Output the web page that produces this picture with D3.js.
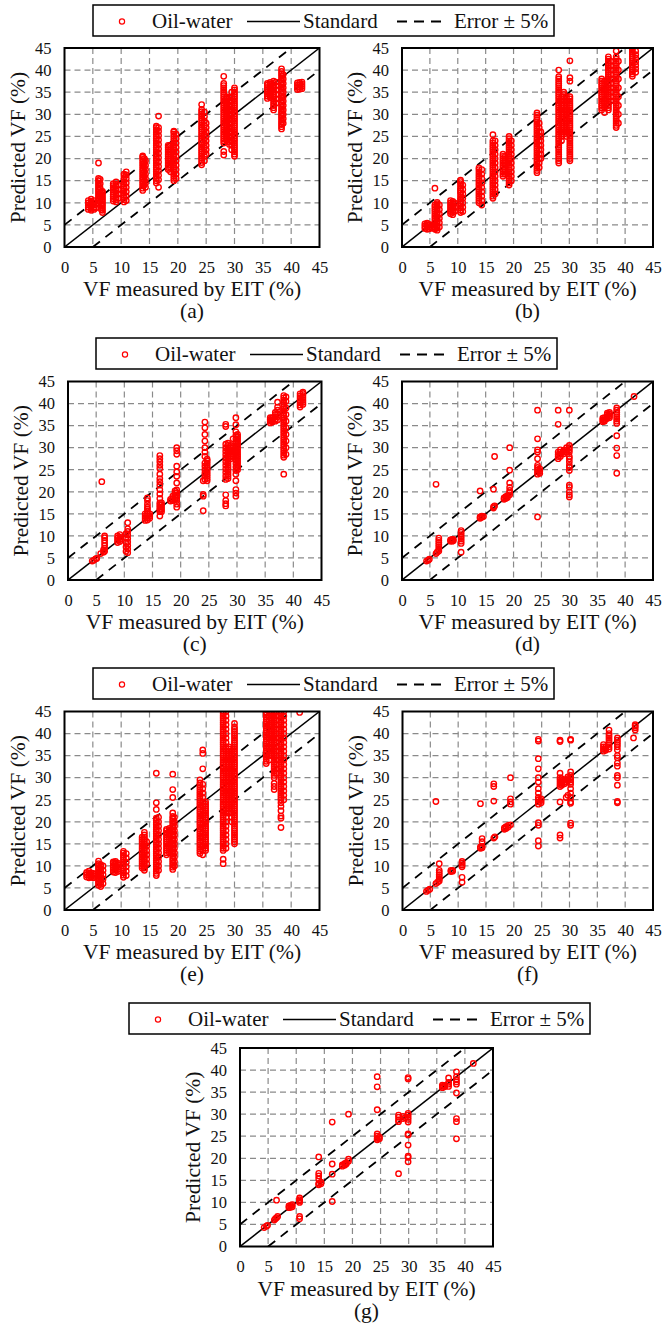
<!DOCTYPE html>
<html><head><meta charset="utf-8">
<script src="https://cdn.jsdelivr.net/npm/d3@7"></script>
<style>body{margin:0;background:#fff}svg{display:block}svg text{font-family:"Liberation Serif",serif}</style>
</head><body><svg id="c" width="663" height="1326"></svg>
<script>
// ---------- data ----------
const xTicks=[0,5,10,15,20,25,30,35,40,45];
const yTicks=[0,5,10,15,20,25,30,35,40,45];
const panelLabels=["(a)","(b)","(c)","(d)","(e)","(f)","(g)"];
const legendLabels=["Oil-water","Standard","Error \u00b1 5%"];
const xTitle="VF measured by EIT (%)";
const yTitle="Predicted VF (%)";
const errorBand=5;

// each entry: [VF measured by EIT, [predicted VF values read at that x]]
const panelA=[
[4.2,[8.5,9,9.5,10,10.5]],[4.7,[8.3,8.8,9.3,9.8,10.3,10.8]],[5.2,[8.5,9,9.5,10,10.5]],[5.5,[8.8,9.6]],
[6.0,[10,10.5,11,11.5,12,12.5,13,13.5,14,14.5,15,15.5,19]],[6.3,[10.3,11.3,12.3,13.3,14.3,15.3]],
[6.7,[7.8,8.3,8.8,9.3,9.8,10.3,10.8,11.3,11.8,12.3,12.6]],[6.5,[8.5,9.5,10.5,11.5,12.5]],
[8.6,[10.4,10.9,11.4,11.9,12.4,12.9,13.4,13.9,14.3]],[9.1,[10.2,10.7,11.2,11.7,12.2,12.7,13.2,13.7,14.2,14.7]],[9.5,[11,12,13,14]],
[10.5,[10.2,10.7,11.2,11.7,12.2,12.7,13.2,13.7,14.2,14.7,15.2,15.7,16.2,16.5]],[10.9,[10.5,11.5,12.5,13.5,14.5,15.5,16.3,17]],
[13.8,[12.8,13.3,13.8,14.3,14.8,15.3,15.8,16.3,16.8,17.3,17.8,18.3,18.8,19.3,19.8,20.3,20.6]],[14.3,[13.5,14.5,15.5,16.5,17.5,18.5,19.5]],[14.1,[14,15,16,17,18,19,20]],
[16.2,[14.5,15,15.5,16,16.5,17,17.5,18,18.5,19,19.5,20,20.5,21,21.5,22,22.5,23,23.5,24,24.5,25,25.5,26,26.5,27,27.3]],
[16.6,[13.5,15.2,16.2,17.2,18.2,19.2,20.2,21.2,22.2,23.2,24.2,25.2,26.2,27,29.6]],
[18.3,[17.5,18,18.5,19,19.5,20,20.5,21,21.5,22,22.5,23]],[18.7,[17,18,19,20,21,22,23]],
[19.3,[15,15.5,16,16.5,17,17.5,18,18.5,19,19.5,20,20.5,21,21.5,22,22.5,23,23.5,24,24.5,25,25.5,26,26.2]],
[19.7,[15.5,16.5,17.5,18.5,19.5,20.5,21.5,22.5,23.5,24.5,25.5]],
[24.2,[18.6,19.1,19.6,20.1,20.6,21.1,21.6,22.1,22.6,23.1,23.6,24.1,24.6,25.1,25.6,26.1,26.6,27.1,27.6,28.1,28.6,29.1,29.6,30.1,30.6,31.1,32.2]],
[24.7,[19.5,20.5,21.5,22.5,23.5,24.5,25.5,26.5,27.5,28.5,29.5,30.5]],[25.0,[21,22,23,24,25,26,27,28]],
[28.1,[20.8,21.6,23.5,24,24.5,25,25.5,26,26.5,27,27.5,28,28.5,29,29.5,30,30.5,31,31.5,32,32.5,33,33.5,34,34.5,35,35.5,36,36.5,37,38.6]],
[28.6,[24,24.5,25,25.5,26,26.5,27,27.5,28,28.5,29,29.5,30,30.5,31,31.5,32,32.5,33,33.5,34]],
[29.1,[23.2,23.7,24.2,24.7,25.2,25.7,26.2,26.7,27.2,27.7,28.2,28.7,29.2,29.7,30.2,30.7,31.2,31.7,32.2,32.7,33.2,33.7]],
[29.5,[22,23,24,25,26,27,28,29,30,31,32,33,34,35]],
[30.0,[20.5,21,21.5,22,22.5,23,23.5,24,24.5,25,25.5,26,26.5,27,27.5,28,28.5,29,29.5,30,30.5,31,31.5,32,32.5,33,33.5,34,34.5,35,35.5,36]],
[35.8,[33.6,34.1,34.6,35.1,35.6,36.1,36.6,37]],[36.3,[33.8,34.3,34.8,35.3,35.8,36.3,36.8,37.2]],
[36.9,[31,31.5,32,32.5,33,33.5,34,34.5,35,35.5,36,36.5,37,37.5]],[37.3,[32.5,33.5,34.5,35.5,36.5,37.3]],
[38.3,[26.7,27.2,27.7,28.2,28.7,29.2,29.7,30.2,30.7,31.2,31.7,32.2,32.7,33.2,33.7,34.2,34.7,35.2,35.7,36.2,36.7,37.2,37.7,38.2,38.7,39.2,39.7,40.3]],
[38.6,[28,29,30,31,32,33,34,35,36,37,38,39]],
[41.1,[35.6,36.1,36.6,37.1]],[41.5,[35.7,36.2,36.7,37.2]],[41.9,[35.8,36.3,36.8,37.3]]
];
const panelB=[
[4.1,[4.2,4.7,5.2]],[4.5,[4.0,4.5,5.0,5.4]],[4.9,[4.1,4.6,5.1]],[5.3,[4.3,4.9]],
[5.9,[4,4.5,5,5.5,6,6.5,7,7.5,8,8.5,9,9.5,13.3]],[6.3,[3.8,4.3,4.8,5.3,5.8,6.3,6.8,7.3,7.8,8.3,8.8,9.3,9.8,10.1]],[6.7,[4.5,5.5,6.5,7.5,8.5,9.5]],
[8.7,[7.5,8,8.5,9,9.5,10,10.5]],[9.1,[7.3,7.8,8.3,8.8,9.3,9.8,10.3]],[9.4,[8,9,10]],
[10.5,[7.8,8.3,8.8,9.3,9.8,10.3,10.8,11.3,11.8,12.3,12.8,13.3,13.8,14.3,14.8,15.1]],[10.9,[8,9,10,11,12,13,14]],
[13.8,[10,10.5,11,11.5,12,12.5,13,13.5,14,14.5,15,15.5,16,16.5,17,17.5,17.9]],[14.3,[9.5,10.5,11.5,12.5,13.5,14.5,15.5,16.5,17.5]],
[16.3,[11,11.5,12,12.5,13,13.5,14,14.5,15,15.5,16,16.5,17,17.5,18,18.5,19,19.5,20,20.5,21,21.5,22,22.5,23,23.5,24,25.4]],
[16.7,[12,13,14,15,16,17,18,19,20,21,22,23,24]],
[18.1,[16,16.5,17,17.5,18,18.5,19,19.5,20,20.5,21]],[18.5,[16.5,17.5,18.5,19.5,20.5]],
[19.2,[14,14.5,15,15.5,16,16.5,17,17.5,18,18.5,19,19.5,20,20.5,21,21.5,22,22.5,23,23.5,24,24.5,25]],
[19.6,[15,16,17,18,19,20,21,22,23,24]],
[24.2,[16.8,17.3,17.8,18.3,18.8,19.3,19.8,20.3,20.8,21.3,21.8,22.3,22.8,23.3,23.8,24.3,24.8,25.3,25.8,26.3,26.8,27.3,27.8,28.3,28.8,29.3,29.8,30.3]],
[24.6,[18,19,20,21,22,23,24,25,26,27,28]],[24.9,[20,21,22,23,24,25,26]],
[28.1,[19,19.5,20,20.5,21,21.5,22,22.5,23,23.5,24,24.5,25,25.5,26,26.5,27,27.5,28,28.5,29,29.5,30,30.5,31,31.5,32,32.5,33,33.5,34,34.5,35,35.5,36,36.5,37,37.5,38,38.5,40]],
[28.6,[24,25,26,27,28,29,30,31,32,33,34]],
[29.0,[25.5,26,26.5,27,27.5,28,28.5,29,29.5,30,30.5,31,31.5,32,32.5,33,33.5,34,34.5,35]],
[29.5,[25,26,27,28,29,30,31,32,33,34]],
[30.1,[19.5,20,20.5,21,21.5,22,22.5,23,23.5,24,24.5,25,25.5,26,26.5,27,27.5,28,28.5,29,29.5,30,30.5,31,31.5,32,32.5,33,33.5,34,37.5,38.3,42.1]],
[35.8,[31,31.5,32,32.5,33,33.5,34,34.5,35,35.5,36,36.5,37,37.5,38]],[36.3,[30.4,31.5,32.5,33.5,34.5,35.5,36.5,37.5]],
[37.0,[31,31.5,32,32.5,33,33.5,34,34.5,35,35.5,36,36.5,37,37.5,38,38.5,39,39.5,40,40.5,41,41.5,42,42.5,43]],
[37.4,[33,34,35,36,37,38,39,40,41,42]],
[38.4,[27,27.5,28,28.5,29,29.5,30,30.5,31,31.5,32,32.5,33,33.5,34,34.5,35,35.5,36,36.5,37,37.5,38,38.5,39,39.5,40,40.5,41,41.5,42,42.5,43,44.3]],
[38.8,[28,30,32,34,36,38,40,42]],
[41.3,[38.6,39.1,39.6,40.1,40.6,41.1,41.6,42.1,42.6,43.1,43.6,44.1,44.6,45]],[41.9,[39.5,40.3,41.1,41.9,42.7,43.5,44.3]]
];
const panelC=[
[4.3,[4.3]],[4.6,[4.5]],[4.9,[4.8]],[5.1,[4.9]],
[5.8,[6.0]],[6.0,[22.3]],[6.3,[6.3,6.8]],
[6.5,[6.5,7.2,7.8,8.4,9.0,9.6,10.0]],
[8.8,[8.5,9.0,9.5,10.0]],[9.2,[8.7,9.2,9.7,10.3]],
[10.3,[6.5,7.5,8.5,9.5,10.5]],[10.6,[6.2,7.0,7.8,8.6,9.4,10.2,11.0,11.6,13.0]],
[13.7,[13.5,14.0,14.5,15.0]],[14.1,[13.6,14.1,14.6,15.1,15.6,16.1,16.5,17.2,18.0,18.6]],[14.5,[14.0,14.5,15.0]],
[16.3,[14.5,15.5,16.0,16.5,17.0,17.5,18.5,19.5,20.5,21.5,22.3,23.0,24.0,25.3,26.0,26.8,27.5,28.2]],
[16.6,[15.5,16,16.5,17,17.5]],
[18.2,[17.9,18.3]],[18.6,[18.0,18.5,19.0]],[19.0,[18.2,18.7,19.2,19.7,20.2]],
[19.3,[16.5,17.2,18.0,18.6,19.2,19.8,20.4,22.0,23.5,24.5,25.8,28.5,29.3,30.0]],
[24.0,[15.7,19.0,19.4,22.5]],
[24.3,[22.8,23.5,24.2,25.0,25.8,26.5,28.0,29.0,30.0,31.5,33.0,34.5,35.8]],
[24.7,[22.5,23,23.5,24,24.5,25,25.5,26,26.5,27,27.4]],
[28.0,[16.8,17.3,18.0,19.3,22.8,23.6,24.4,25.2,26.0,26.8,27.6,28.4,29.2,30.0,30.8,34.8,35.3]],
[28.4,[23,23.5,24,24.5,25,25.5,26,26.5,27,27.5,28,28.5,29,29.5,30,30.5,31]],
[28.9,[27.5,28,28.5,29,29.5,30,30.5]],[29.3,[28,28.5,29,29.5,30,30.3,32]],
[29.8,[19.0,19.7,20.5,22.5,24.0,24.8,25.6,26.4,27.2,28.0,28.8,29.6,30.4,31.2,32.0,32.8,33.6,35.2,36.8]],
[30.1,[25,25.5,26,26.5,27,27.5,28,28.5,29,29.5,30,30.5,31,31.5,32,32.5,33]],
[35.9,[35.6,36.0,36.4,36.8]],[36.3,[35.8,36.3,36.8]],
[36.8,[36.0,36.5,37.0,37.5,38.0]],[37.2,[36.3,37.0,37.7,38.5,39.2,40.3]],
[38.3,[24,27.8,28.3,28.8,29.3,29.8,30.3,30.8,31.3,31.8,32.3,32.8,33.3,33.8,34.3,34.8,35.3,35.8,36.3,36.8,37.3,37.8,38.3,38.8,39.3,39.8,40.3,40.8,41.3,41.8]],
[38.7,[28.5,30.0,31.5,33.0,34.5,36.0,37.5,39.0,40.5,41.5]],
[41.2,[39.2,39.7,40.2,40.7,41.2,41.7,42.2]],[41.7,[39.8,40.3,40.8,41.3,41.8,42.3,42.6]]
];
const panelD=[
[4.4,[4.3]],[4.7,[4.5]],[4.9,[4.7]],
[6.1,[6.0,21.7]],[6.3,[6.3]],[6.6,[6.6,7.0,7.5,8.0,8.5,9.0,9.5]],
[8.7,[8.8,9.1]],[9.0,[8.8,9.0,9.2]],[9.2,[8.9,9.2]],
[10.6,[6.3,8.3,8.8,9.3,9.8,10.3,10.8,11.2]],
[14.0,[14.0,14.3,20.2]],[14.3,[14.2,14.5]],[14.6,[14.4]],
[16.4,[16.3,16.6,20.6]],[16.6,[16.8,28.0]],
[18.3,[18.3,18.6]],[18.6,[18.5,18.9]],[18.9,[18.7,19.1]],
[19.3,[19.3,19.8,20.3,21.0,22.0,24.9,30.0]],
[24.3,[14.3,24.0,24.5,25.0,25.5,26.0,27.5,29.0,29.5,32.0,38.5]],[24.7,[24.2,24.7,25.2]],
[28.0,[27.5,28.0,28.5,29.0,35.3,38.5]],[28.4,[28.0,28.5,29.0,29.5]],
[29.0,[28.6,29.0,29.4]],[29.5,[29.0,29.5,30.0]],
[30.0,[18.8,19.3,20.0,21.0,21.5,24.8,25.5,26.0,26.8,27.5,28.0,29.0,29.5,30.0,30.5,38.5]],
[36.0,[35.9,36.3,36.7]],[36.3,[36.0,36.4,36.8]],
[36.8,[36.6,37.0,37.4,37.8]],[37.2,[36.8,37.2,37.6,38.0]],
[38.5,[24.2,28.2,29.9,32.7,35.5,36.0,36.5,37.0,37.5,38.0,38.5,39.0]],
[41.6,[41.6]]
];
const panelE=[
[3.9,[7.5,8,8.5]],[4.3,[7.3,7.8,8.3,8.8]],[4.7,[7.4,7.9,8.4]],[5.1,[7.3,7.8,8.3]],[5.4,[7.6,8.1]],
[6.0,[5.6,6.1,6.6,7.1,7.6,8.1,8.6,9.1,9.6,10.1,10.5,11.1]],[6.4,[5.3,5.8,6.3,6.8,7.3,7.8,8.3,8.8,9.3,9.8,10.3]],[6.8,[6,7,8,9,10]],
[8.6,[8.6,9.1,9.6,10.1,10.6,10.9]],[9.0,[8.5,9,9.5,10,10.5,11]],[9.4,[8.7,9.2,9.7,10.2,10.6]],
[10.4,[7.4,7.9,8.4,8.9,9.4,9.9,10.4,10.9,11.4,11.9,12.4,12.9,13.3]],[10.9,[7.8,8.8,9.8,10.8,11.8,12.8]],
[13.7,[9.5,10,10.5,11,11.5,12,12.5,13,13.5,14,14.5,15,15.5,16,16.5]],
[14.1,[9,9.5,10,10.5,11,11.5,12,12.5,13,13.5,14,14.5,15,15.5,16,16.5,17,17.6]],[14.5,[10.5,11.5,12.5,13.5,14.5,15.5]],
[16.2,[7.8,8.3,8.8,9.3,9.8,10.3,10.8,11.3,11.8,12.3,12.8,13.3,13.8,14.3,14.8,15.3,15.8,16.3,16.8,17.3,17.8,18.3,18.8,19.3,19.8,20.3,20.8,22.8,24.3,31]],
[16.6,[9,10,11,12,13,14,15,16,17,18,19,20,21]],
[18.0,[12.5,13,13.5,14,14.5,15,15.5,16,16.5,17,17.5,18,18.3]],[18.5,[13,14,15,16,17,18,18.5]],
[19.1,[9.2,9.7,10.2,10.7,11.2,11.7,12.2,12.7,13.2,13.7,14.2,14.7,15.2,15.7,16.2,16.7,17.2,17.7,18.2,18.7,19.2,19.7,20.2,20.7,21.2,22,25.5,27.3,30.8]],
[19.4,[10,11,12,13,14,15,16,17,18,19,20,21]],
[23.9,[12.8,13.3,13.8,14.3,14.8,15.3,15.8,16.3,16.8,17.3,17.8,18.3,18.8,19.3,19.8,20.3,20.8,21.3,21.8,22.3,22.8,23.3,23.8,24.3,24.8,25.3,25.8,26.3,26.8,27.3,27.8,28.3,28.8,29.5]],
[24.4,[12.5,13.5,14.5,15.5,16.5,17.5,18.5,19.5,20.5,21.5,22.5,23.5,24.5,25.5,26.5,27.5,28.5,32,35.5,36.3]],
[24.9,[13.5,14,14.5,15,15.5,16,16.5,17,17.5,18,18.5,19,19.5,20,20.5,21,21.5,22,22.5,23,23.5,24,24.5]],
[28.0,[10.5,11.5,13.5,14,14.5,15,15.5,16,16.5,17,17.5,18,18.5,19,19.5,20,20.5,21,21.5,22,22.5,23,23.5,24,24.5,25,25.5,26,26.5,27,27.5,28,28.5,29,29.5,30,30.5,31,31.5,32,32.5,33,33.5,34,34.5,35,35.5,36,36.5,37,37.5,38,38.5,39,39.5,40,40.5,41,41.5,42,42.5,43,43.5,44,44.5,45]],
[28.5,[14,15,16,17,18,19,20,21,22,23,24,25,26,27,28,29,30,31,32,33,34,35,36,37,38,39,40,41,42,43,44,45]],
[29.0,[22,22.5,23,23.5,24,24.5,25,25.5,26,26.5,27,27.5,28,28.5,29,29.5,30,30.5,31,31.5,32,32.5,33,33.5,34,34.5,35,35.5,36,36.5,37]],
[29.5,[20,21,22,23,24,25,26,27,28,29,30,31,32,33,34,35,36]],
[30.0,[15,15.5,16,16.5,17,17.5,18,18.5,19,19.5,20,20.5,21,21.5,22,22.5,23,23.5,24,24.5,25,25.5,26,26.5,27,27.5,28,28.5,29,29.5,30,30.5,31,31.5,32,32.5,33,33.5,34,34.5,35,35.5,36,36.5,37,37.5,38,38.5,39,39.5,40,40.5,41,41.5,42.3]],
[35.6,[33.2,33.7,34.2,34.7,35.2,35.7,36.2,36.7,37.2,37.7,38.2,38.7,39.2,39.7,40.2,40.7,41.2,41.7,42.2,42.7,43.2,43.7,44.2,44.7]],
[36.1,[34,35,36,37,38,39,40,41,42,43,44,45]],
[36.6,[35,35.5,36,36.5,37,37.5,38,38.5,39,39.5,40,40.5,41,41.5,42,42.5,43,43.5,44,44.5,45]],
[37.0,[27.3,28,28.7,30,30.5,31,31.5,32,32.5,33,33.5,34,34.5,35,35.5,36,36.5,37,37.5,38,38.5,39,39.5,40,40.5,41,41.5,42,42.5,43,43.5,44,44.5,45]],
[37.4,[31,32,33,34,35,36,37,38,39,40,41,42,43,44,45]],
[38.2,[18.7,20.8,21.3,22.5,23.5,24.3,25,25.5,26,26.5,27,27.5,28,28.5,29,29.5,30,30.5,31,31.5,32,32.5,33,33.5,34,34.5,35,35.5,36,36.5,37,37.5,38,38.5,39,39.5,40,40.5,41,41.5,42,42.5,43,43.5,44,44.5,45]],
[38.7,[25,26,27,28,29,30,31,32,33,34,35,36,37,38,39,40,41,42,43,44,45]],
[41.5,[44.8]]
];
const panelF=[
[4.3,[4.2]],[4.6,[4.5]],[4.9,[4.7]],
[6.0,[6.0,24.6]],[6.3,[6.3]],[6.6,[6.6,7.0,7.5,8.0,8.5,9.0,10.5]],
[8.7,[8.7,9.0]],[9.0,[8.8,9.0]],
[10.7,[6.3,7.4,9.8,10.2,10.6,11.0]],
[14.0,[14.0,14.3,24.1]],[14.3,[14.1,14.4,15.5,16.2]],
[16.4,[16.3,24.7,28.0,28.6]],[16.6,[16.6]],
[18.3,[18.3,18.6]],[18.6,[18.5,18.9]],[19.0,[18.8,19.2]],
[19.4,[19.3,24.0,24.5,25.2,30.0]],
[24.4,[14.5,15.7,19.2,19.8,24.0,24.5,25.0,25.5,26.5,27.5,29.0,30.0,32.0,34.3,38.3,38.7]],[24.9,[24.3,24.8,25.2]],
[28.3,[16.3,17.0,24.5,28.0,28.5,29.0,29.5,30.0,31.0,38.2,38.5]],[28.6,[28.3,28.8,29.3,29.8]],
[29.1,[28.6,29.0,29.5]],[29.4,[25.5,29.0,29.5]],[29.7,[26.0,29.3,29.8,30.2]],
[30.2,[19.2,19.7,24.2,24.5,25.5,26.5,27.5,28.5,29.0,29.5,30.0,30.5,31.3,38.5,38.7]],
[36.1,[36.0,36.5,37.0,37.5]],[36.5,[36.2,36.6,37.0]],
[37.1,[36.5,37.0,37.5,38.0,38.5,39.0,39.5,40.0,40.8]],
[38.6,[24.3,24.6,28.3,30.0,30.5,32.6,33.3,34.5,35.0,36.3,37.0,37.5,38.0,38.5,39.0]],
[41.5,[39.0]],[41.8,[40.8,41.3,41.7,42.0]]
];
const panelG=[
[4.3,[4.3]],[4.7,[4.6]],[4.9,[4.8]],
[6.1,[6.0]],[6.3,[6.3]],[6.5,[6.5,10.5]],[6.7,[6.8]],
[8.7,[8.8,9.2]],[9.0,[8.9,9.3]],[9.3,[9.0,9.5]],
[10.6,[6.3,6.8,10.0,10.3,10.6,11.0]],
[14.0,[14.0,14.3,15.3,16.0,16.6,20.3]],[14.4,[14.2,14.6]],
[16.4,[10.2,16.4,18.7,28.2]],
[18.2,[18.2,18.5]],[18.6,[18.4,18.8]],[18.9,[18.7,19.0]],
[19.3,[19.3,19.8,30.0]],
[24.4,[24.2,24.5,25.0,25.5,31.0,36.2,38.5]],[24.8,[24.4,24.8]],
[28.2,[16.5,28.3,28.7,29.3,29.8]],[29.0,[29.0,29.5]],[29.4,[29.2]],
[29.9,[19.2,20.2,20.5,23.0,25.3,25.5,28.2,28.8,29.3,29.8,30.2,38.0,38.3]],
[36.0,[36.0,36.3,36.6]],[36.4,[36.2,36.5]],
[37.1,[36.3,36.8,37.2,38.2]],
[38.5,[24.4,28.3,29.0,34.8,36.8,37.3,37.8,38.5,39.6]],
[41.5,[41.5]]
];

// ---------- layout ----------
const panels=[
 {data:panelA,l:64.5,r:319.5,t:48,b:247},
 {data:panelB,l:402,r:653,t:48,b:247},
 {data:panelC,l:68,r:321.5,t:381.5,b:580},
 {data:panelD,l:402,r:653,t:381.5,b:580},
 {data:panelE,l:64.5,r:319.5,t:711.5,b:910},
 {data:panelF,l:402.5,r:653,t:711.5,b:910},
 {data:panelG,l:240,r:493,t:1048,b:1246.5}
];
const legends=[{x:93,y:5},{x:96,y:338},{x:93,y:668},{x:129,y:1003}];

const FONT="Liberation Serif";
const RED="#ff0000";
const svg=d3.select("#c");
svg.append("rect").attr("width",663).attr("height",1326).attr("fill","#fff");
const defs=svg.append("defs");

panels.forEach((p,i)=>{
  const x=d3.scaleLinear().domain([0,45]).range([p.l,p.r]);
  const y=d3.scaleLinear().domain([0,45]).range([p.b,p.t]);
  const g=svg.append("g");
  defs.append("clipPath").attr("id","clip"+i).append("rect")
    .attr("x",p.l).attr("y",p.t).attr("width",p.r-p.l).attr("height",p.b-p.t);
  const inner=g.append("g").attr("clip-path",`url(#clip${i})`);
  inner.selectAll(".gx").data(xTicks.slice(1,-1)).join("line")
    .attr("x1",d=>x(d)).attr("x2",d=>x(d)).attr("y1",p.t).attr("y2",p.b)
    .attr("stroke","#8a8a8a").attr("stroke-width",1.2).attr("stroke-dasharray","6,4");
  inner.selectAll(".gy").data(yTicks.slice(1,-1)).join("line")
    .attr("y1",d=>y(d)).attr("y2",d=>y(d)).attr("x1",p.l).attr("x2",p.r)
    .attr("stroke","#8a8a8a").attr("stroke-width",1.2).attr("stroke-dasharray","6,4");
  inner.append("line").attr("x1",x(0)).attr("y1",y(0)).attr("x2",x(45)).attr("y2",y(45))
    .attr("stroke","#000").attr("stroke-width",1.5);
  inner.append("line").attr("x1",x(0)).attr("y1",y(errorBand)).attr("x2",x(45-errorBand)).attr("y2",y(45))
    .attr("stroke","#000").attr("stroke-width",1.8).attr("stroke-dasharray","9,7");
  inner.append("line").attr("x1",x(errorBand)).attr("y1",y(0)).attr("x2",x(45)).attr("y2",y(45-errorBand))
    .attr("stroke","#000").attr("stroke-width",1.8).attr("stroke-dasharray","9,7");
  const pts=p.data.flatMap(([xv,ys])=>ys.map(yv=>[xv,yv]));
  inner.selectAll("circle").data(pts).join("circle")
    .attr("cx",d=>x(d[0])).attr("cy",d=>y(d[1])).attr("r",2.7)
    .attr("fill","none").attr("stroke",RED).attr("stroke-width",1.4);
  g.append("rect").attr("x",p.l).attr("y",p.t).attr("width",p.r-p.l).attr("height",p.b-p.t)
    .attr("fill","none").attr("stroke","#000").attr("stroke-width",2);
  const ax=g.append("g").attr("transform",`translate(0,${p.b})`)
    .call(d3.axisBottom(x).tickValues(xTicks).tickSize(0).tickPadding(14).tickFormat(d3.format("d")));
  const ay=g.append("g").attr("transform",`translate(${p.l},0)`)
    .call(d3.axisLeft(y).tickValues(yTicks).tickSize(0).tickPadding(13).tickFormat(d3.format("d")));
  [ax,ay].forEach(a=>{a.select(".domain").remove();
    a.attr("font-family",FONT).attr("font-size",16.5);
    a.selectAll("text").attr("fill","#111");});
  const cx=(p.l+p.r)/2, cy=(p.t+p.b)/2;
  const t=(s)=>g.append("text").attr("font-family",FONT).attr("font-size",21.5).attr("fill","#111")
    .attr("text-anchor","middle").text(s);
  t(xTitle).attr("x",cx).attr("y",p.b+49);
  t(yTitle).attr("transform",`translate(${p.l-40},${cy}) rotate(-90)`);
  t(panelLabels[i]).attr("x",cx).attr("y",p.b+71);
});

legends.forEach(L=>{
  const g=svg.append("g").attr("transform",`translate(${L.x},${L.y})`);
  g.append("rect").attr("width",461).attr("height",31).attr("fill","#fff")
    .attr("stroke","#000").attr("stroke-width",1.5);
  g.append("circle").attr("cx",29).attr("cy",16.5).attr("r",2.6)
    .attr("fill","none").attr("stroke",RED).attr("stroke-width",1.2);
  const txt=(tx,s)=>g.append("text").attr("x",tx).attr("y",22.5).attr("font-family",FONT)
    .attr("font-size",21).attr("fill","#111").text(s);
  txt(59,legendLabels[0]);
  g.append("line").attr("x1",154).attr("x2",207).attr("y1",16.5).attr("y2",16.5)
    .attr("stroke","#000").attr("stroke-width",1.6);
  txt(210,legendLabels[1]);
  g.append("line").attr("x1",304).attr("x2",348).attr("y1",16.5).attr("y2",16.5)
    .attr("stroke","#000").attr("stroke-width",1.8).attr("stroke-dasharray","10,7");
  txt(361,legendLabels[2]);
});
</script></body></html>
